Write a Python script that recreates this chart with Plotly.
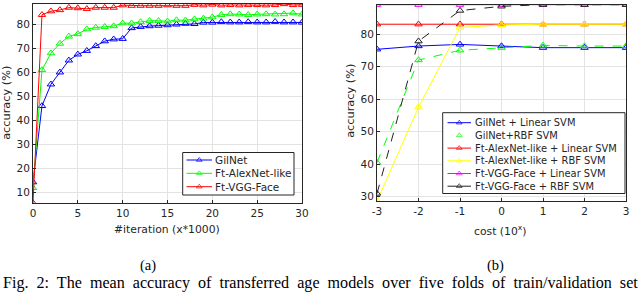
import plotly.graph_objects as go

# ---- (a) fine-tuning curves ----
iters = list(range(0, 31))
gilnet = [14.2, 46, 55, 60, 65, 67.5, 69, 71, 73, 73.8, 74, 78.5, 79, 79.3, 79.5, 79.7,
          80, 80.3, 80.2, 80.8, 80.8, 81, 80.9, 80.9, 81, 80.9, 80.9, 81.1, 80.9, 80.9, 80.8]
alexnet = [11.8, 61, 68, 72, 75, 76, 78, 78.7, 79, 79.3, 80.5, 80.5, 81, 81.5, 81.5, 81.3,
           81.8, 81.7, 82.2, 82.5, 83, 84, 84.3, 84.2, 84, 84.2, 84.3, 84.2, 84.3, 84.7, 84.2]
vggface = [5.5, 84, 85.5, 86, 87, 86.8, 86.5, 87, 87, 87, 88, 87.8, 87.8, 87.8, 87.8, 88,
           87.8, 87.8, 88.2, 88, 88.3, 88, 88.1, 88, 88.1, 88.1, 88, 88.1, 88.5, 88.1, 88.2]
a_names = ["GilNet", "Ft-AlexNet-like", "Ft-VGG-Face"]
a_series = [gilnet, alexnet, vggface]
a_colors = ["#0000ff", "#00ff00", "#ff0000"]
a_ticks_x = [0, 5, 10, 15, 20, 25, 30]
a_ticks_y = [10, 20, 30, 40, 50, 60, 70, 80]

# ---- (b) SVM on features vs cost ----
cost = [-3, -2, -1, 0, 1, 2, 3]
gil_lin = [75.3, 76.3, 76.8, 76.3, 75.8, 75.8, 75.8]
gil_rbf = [40.5, 72, 75, 75.8, 76.5, 76.3, 76.3]
alex_lin = [83, 83, 83, 83, 83, 83, 83]
alex_rbf = [28.7, 57.5, 82, 82.8, 83, 83, 83]
vgg_lin = [89, 89, 89, 89, 89, 89, 89]
vgg_rbf = [31, 77.8, 87.2, 88.5, 89, 89, 89]
b_names = ["GilNet + Linear SVM", "GilNet+RBF SVM", "Ft-AlexNet-like + Linear SVM",
           "Ft-AlexNet-like + RBF SVM", "Ft-VGG-Face + Linear SVM", "Ft-VGG-Face + RBF SVM"]
b_series = [gil_lin, gil_rbf, alex_lin, alex_rbf, vgg_lin, vgg_rbf]
b_colors = ["#0000ff", "#00ff00", "#ff0000", "#ffff00", "#ff00ff", "#222222"]
b_dash = ["solid", "dash", "solid", "solid", "solid", "dash"]
b_legend_line = [True, False, True, True, True, True]
b_ticks_y = [30, 40, 50, 60, 70, 80]
b_ticktext_x = ["-3", "-2", "-1", "0", "1", "2", "3"]

W, H = 640, 292
DARK = "#262626"
fig = go.Figure()

MARK = dict(symbol="triangle-up-open", size=6.5)

for name, ys, col in zip(a_names, a_series, a_colors):
    fig.add_trace(go.Scatter(x=iters, y=ys, name=name, mode="lines+markers",
                             xaxis="x", yaxis="y", showlegend=False,
                             line=dict(color=col, width=1),
                             marker=dict(color=col, line=dict(width=1), **MARK)))

for name, ys, col, dsh in zip(b_names, b_series, b_colors, b_dash):
    fig.add_trace(go.Scatter(x=cost, y=ys, name=name, mode="lines+markers",
                             xaxis="x2", yaxis="y2", showlegend=False,
                             line=dict(color=col, width=1, dash=dsh),
                             marker=dict(color=col, line=dict(width=1), **MARK)))

# ---- hand-made legends on a full-page pixel overlay (x3/y3) ----
shapes = []
annotations = []

def make_legend(box, rows, line_x, text_x, names, colors, show_line, fsize):
    x0, y0, x1, y1 = box
    shapes.append(dict(type="rect", xref="x3", yref="y3", x0=x0, y0=y0, x1=x1, y1=y1,
                       fillcolor="white", line=dict(color=DARK, width=1), layer="below"))
    for ry, nm, col, sl in zip(rows, names, colors, show_line):
        lx0, lx1 = line_x
        xm = (lx0 + lx1) / 2
        fig.add_trace(go.Scatter(x=[lx0, xm, lx1], y=[ry, ry, ry], xaxis="x3", yaxis="y3",
                                 mode="lines+markers" if sl else "markers",
                                 showlegend=False, hoverinfo="skip",
                                 line=dict(color=col, width=1),
                                 marker=dict(color=col, size=[0, 5, 0], line=dict(width=1),
                                             symbol="triangle-up-open")))
        annotations.append(dict(x=text_x, y=ry, xref="x3", yref="y3", text=nm,
                                showarrow=False, xanchor="left", yanchor="middle",
                                font=dict(family="DejaVu Sans", size=fsize, color=DARK)))

make_legend((182.7, 152.5, 294, 195), [160, 173.3, 186.7], (186.5, 212), 212.5,
            a_names, a_colors, [True] * 3, 10.5)
make_legend((442.7, 112.7, 625, 193.5), [122.7, 135.4, 148.1, 160.8, 173.5, 186.2],
            (447.5, 471), 472.5, b_names, b_colors, b_legend_line, 9.9)

# ---- axis titles and captions ----
titlefont = dict(family="DejaVu Sans", size=10.8, color=DARK)
ytitlefont = dict(family="DejaVu Sans", size=11.3, color=DARK)
annotations += [
    dict(x=167, y=229, text="#iteration (x*1000)", font=titlefont),
    dict(x=500, y=230, text="cost (10<sup>x</sup>)", font=titlefont),
    dict(x=6.5, y=103.3, text="accuracy (%)", font=ytitlefont, textangle=-90),
    dict(x=351, y=100.8, text="accuracy (%)", font=ytitlefont, textangle=-90),
]
serif = dict(family="Liberation Serif", size=14.5, color="black")
annotations += [
    dict(x=147.5, y=265, text="(a)", font=serif),
    dict(x=495.5, y=265, text="(b)", font=serif),
    dict(x=1, y=283, xanchor="left", font=dict(family="Liberation Serif", size=16.1, color="black"),
         text="Fig.&nbsp; 2:&nbsp; The&nbsp; mean&nbsp; accuracy&nbsp; of&nbsp; transferred&nbsp; age&nbsp; models&nbsp; over&nbsp; five&nbsp; folds&nbsp; of&nbsp; train/validation&nbsp; set"),
]
for a in annotations:
    a.setdefault("xref", "x3")
    a.setdefault("yref", "y3")
    a.setdefault("showarrow", False)
    a.setdefault("xanchor", "center")
    a.setdefault("yanchor", "middle")

tickfont = dict(family="DejaVu Sans", size=10.5, color=DARK)
axcommon = dict(showline=True, linecolor=DARK, linewidth=1, mirror=True,
                ticks="inside", ticklen=3, tickcolor=DARK,
                showgrid=True, gridcolor="#e3e3e3", gridwidth=1,
                zeroline=False, tickfont=tickfont, automargin=False, fixedrange=True)

fig.update_layout(
    width=W, height=H, margin=dict(l=0, r=0, t=0, b=0),
    paper_bgcolor="white", plot_bgcolor="rgba(0,0,0,0)", showlegend=False,
    xaxis=dict(domain=[33 / W, 302 / W], range=[0, 30], tickvals=a_ticks_x,
               anchor="y", **axcommon),
    yaxis=dict(domain=[(H - 203) / H, 1 - 4 / H], range=[5.5, 88.5],
               tickvals=a_ticks_y, anchor="x", **axcommon),
    xaxis2=dict(domain=[377 / W, 626 / W], range=[-3, 3], tickvals=cost,
                ticktext=b_ticktext_x, anchor="y2", **axcommon),
    yaxis2=dict(domain=[(H - 201) / H, 1 - 4.7 / H], range=[28.7, 89],
                tickvals=b_ticks_y, anchor="x2", **axcommon),
    xaxis3=dict(domain=[0, 1], range=[0, W], visible=False, anchor="y3",
                automargin=False, fixedrange=True),
    yaxis3=dict(domain=[0, 1], range=[H, 0], visible=False, anchor="x3",
                automargin=False, fixedrange=True),
    shapes=shapes, annotations=annotations,
)

fig.write_html("out.html", config={"displayModeBar": False},
               post_script="document.body.style.margin='0';document.body.style.overflow='hidden';")
